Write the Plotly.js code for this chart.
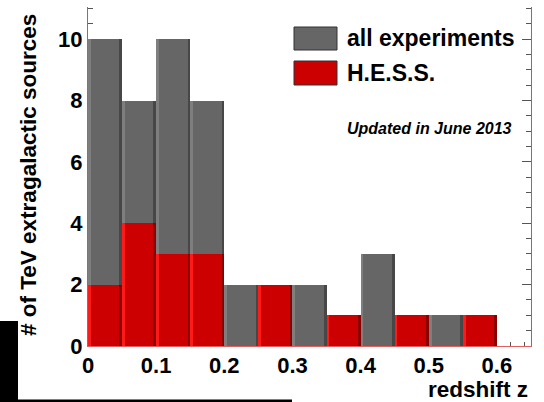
<!DOCTYPE html>
<html>
<head>
<meta charset="utf-8">
<script src="https://cdn.plot.ly/plotly-3.0.1.min.js"></script>
<style>html,body{margin:0;padding:0;background:#fff;}#chart{width:544px;height:402px;}</style>
</head>
<body>
<div id="chart"></div>
<script>
// bin left edges (redshift z), bin width 0.05
const binEdges = [0, 0.05, 0.1, 0.15, 0.2, 0.25, 0.3, 0.35, 0.4, 0.45, 0.5, 0.55];
const binWidth = 0.05;
const allExperiments = [10, 8, 10, 8, 2, 2, 2, 1, 3, 1, 1, 1];
const hessSources = [2, 4, 3, 3, 0, 2, 0, 1, 0, 1, 0, 1];
const legendNames = ['all experiments', 'H.E.S.S.'];
const noteText = 'Updated in June 2013';

const FONT = 'Liberation Sans, Arial, Helvetica, sans-serif';
const strip = 0.004;

function bars(values, color, offset, width) {
  return {
    type: 'bar', x: binEdges, y: values, offset: offset, width: width,
    marker: {color: color, line: {width: 0}},
    hoverinfo: 'skip', showlegend: false
  };
}

const data = [
  bars(allExperiments, '#666666', 0, binWidth),
  bars(allExperiments, '#7e7e7e', 0, strip),
  bars(allExperiments, '#474747', binWidth - strip, strip),
  bars(hessSources, '#cc0000', 0, binWidth),
  bars(hessSources, '#ff1a1a', 0, strip),
  bars(hessSources, '#8a0000', binWidth - strip, strip)
];

function px2x(p) { return (p - 88) / 443; }
function px2y(p) { return (346 - p) / 339; }

const tickFont = {family: FONT, size: 22, color: '#000', weight: 'bold'};

const layout = {
  width: 544, height: 402,
  margin: {l: 88, r: 13, t: 7, b: 56, pad: 0},
  paper_bgcolor: '#fff', plot_bgcolor: '#fff',
  barmode: 'overlay', bargap: 0,
  showlegend: false,
  xaxis: {
    range: [0, 0.65], tick0: 0, dtick: 0.1,
    ticks: 'inside', ticklen: 8, tickcolor: '#555', tickwidth: 1,
    minor: {tick0: 0, dtick: 0.02, ticks: 'inside', ticklen: 4, tickcolor: '#555'},
    showline: true, linecolor: '#e06060', linewidth: 1,
    showgrid: false, zeroline: false, layer: 'below traces',
    tickfont: tickFont, fixedrange: true
  },
  xaxis2: {
    overlaying: 'x', anchor: 'y', side: 'top', range: [0, 0.65],
    tick0: 0, dtick: 0.1, ticks: 'inside', ticklen: 8, tickcolor: '#555',
    minor: {tick0: 0, dtick: 0.02, ticks: 'inside', ticklen: 4, tickcolor: '#555'},
    showline: true, linecolor: '#888', showticklabels: false,
    showgrid: false, zeroline: false, fixedrange: true
  },
  yaxis: {
    range: [0, 11.05], tick0: 0, dtick: 2,
    ticks: 'inside', ticklen: 9, tickcolor: '#555',
    minor: {tick0: 0, dtick: 0.5, ticks: 'inside', ticklen: 5, tickcolor: '#555'},
    showline: true, linecolor: '#777', mirror: 'ticks',
    showgrid: false, zeroline: false, layer: 'below traces',
    tickfont: tickFont, fixedrange: true
  },
  yaxis2: {
    overlaying: 'y', anchor: 'x', range: [0, 11.05],
    tickvals: [2, 4, 6, 8], showticklabels: false, ticks: '',
    showgrid: true, gridcolor: '#999', gridwidth: 1, griddash: 'dot',
    showline: false, zeroline: false, fixedrange: true
  },
  shapes: [
    {type: 'rect', xref: 'paper', yref: 'paper', x0: px2x(294), x1: px2x(337), y0: px2y(50), y1: px2y(27),
     fillcolor: '#666666', line: {color: '#333', width: 1}},
    {type: 'rect', xref: 'paper', yref: 'paper', x0: px2x(294), x1: px2x(337), y0: px2y(85), y1: px2y(61),
     fillcolor: '#cc0000', line: {color: '#333', width: 1}},
    {type: 'rect', xref: 'paper', yref: 'paper', x0: px2x(0), x1: px2x(18), y0: px2y(402), y1: px2y(321),
     fillcolor: '#000', line: {width: 0}},
    {type: 'rect', xref: 'paper', yref: 'paper', x0: px2x(0), x1: px2x(292), y0: px2y(402), y1: px2y(399.5),
     fillcolor: '#000', line: {width: 0}}
  ],
  annotations: [
    {text: legendNames[0], xref: 'paper', yref: 'paper', x: px2x(345), y: px2y(38), xanchor: 'left', yanchor: 'middle',
     showarrow: false, font: {family: FONT, size: 23, color: '#000', weight: 'bold'}},
    {text: legendNames[1], xref: 'paper', yref: 'paper', x: px2x(345), y: px2y(73), xanchor: 'left', yanchor: 'middle',
     showarrow: false, font: {family: FONT, size: 23, color: '#000', weight: 'bold'}},
    {text: noteText, xref: 'paper', yref: 'paper', x: px2x(514), y: px2y(128), xanchor: 'right', yanchor: 'middle',
     showarrow: false, font: {family: FONT, size: 16, color: '#000', weight: 'bold', style: 'italic'}},
    {text: '# of TeV extragalactic sources', xref: 'paper', yref: 'paper', x: px2x(28), y: px2y(175),
     xanchor: 'center', yanchor: 'middle', textangle: -90,
     showarrow: false, font: {family: FONT, size: 22.5, color: '#000', weight: 'bold'}},
    {text: 'redshift z', xref: 'paper', yref: 'paper', x: px2x(530), y: px2y(389), xanchor: 'right', yanchor: 'middle',
     showarrow: false, font: {family: FONT, size: 22.5, color: '#000', weight: 'bold'}}
  ]
};

Plotly.newPlot('chart', data, layout, {displayModeBar: false, staticPlot: true});
</script>
</body>
</html>
